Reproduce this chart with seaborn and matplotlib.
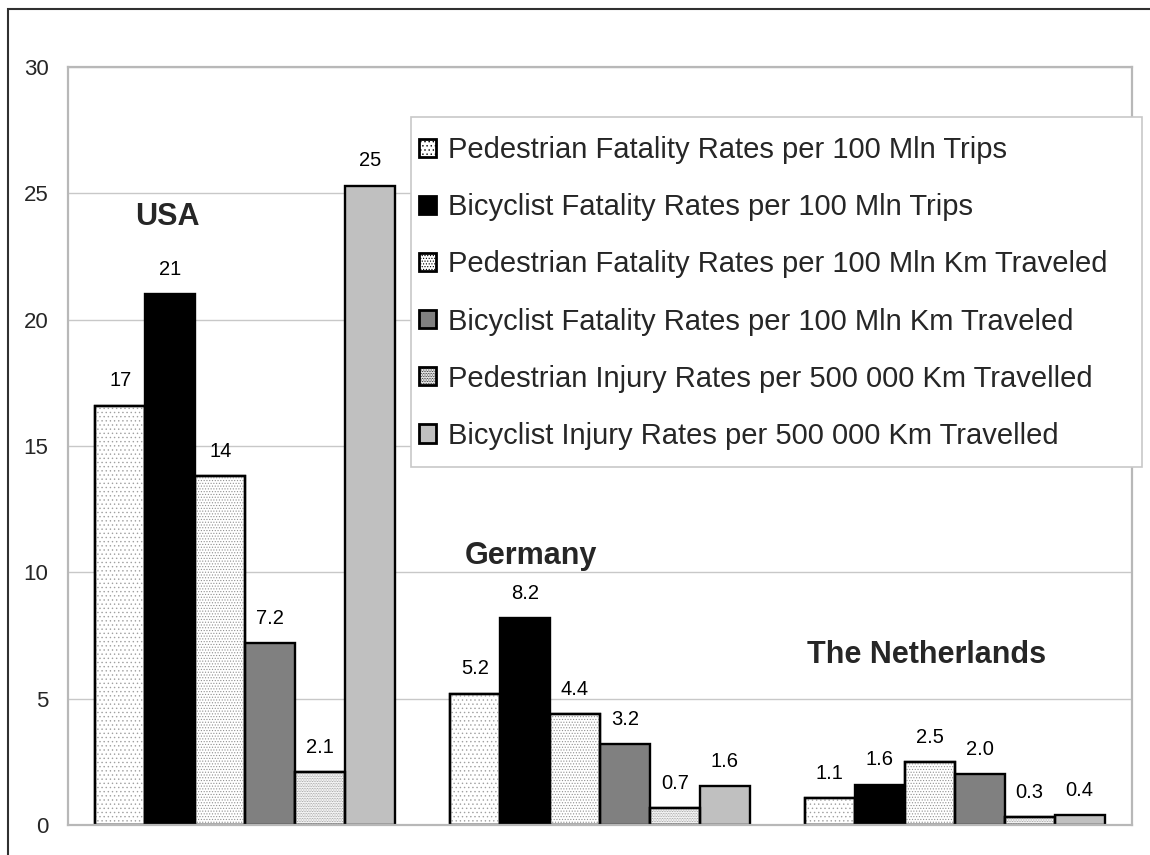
import matplotlib
matplotlib.use("Agg")
import matplotlib.pyplot as plt
from matplotlib.patches import Rectangle, Patch
import seaborn as sns
import pandas as pd

countries = ["USA", "Germany", "The Netherlands"]
series = [
    "Pedestrian Fatality Rates per 100 Mln Trips",
    "Bicyclist Fatality Rates per 100 Mln Trips",
    "Pedestrian Fatality Rates per 100 Mln Km Traveled",
    "Bicyclist Fatality Rates per 100 Mln Km Traveled",
    "Pedestrian Injury Rates per 500 000 Km Travelled",
    "Bicyclist Injury Rates per 500 000 Km Travelled",
]
usa_values = [16.6, 21.0, 13.8, 7.2, 2.1, 25.3]
germany_values = [5.2, 8.2, 4.4, 3.2, 0.67, 1.55]
netherlands_values = [1.07, 1.6, 2.5, 2.0, 0.3, 0.4]
usa_labels = ["17", "21", "14", "7.2", "2.1", "25"]
germany_labels = ["5.2", "8.2", "4.4", "3.2", "0.7", "1.6"]
netherlands_labels = ["1.1", "1.6", "2.5", "2.0", "0.3", "0.4"]
yticks = [0, 5, 10, 15, 20, 25, 30]

series_colors = ["white", "black", "white", "#808080", "white", "#c0c0c0"]
series_hatches = ["....", None, "......", None, "..........", None]
hatch_colors = ["#a0a0a0", None, "#909090", None, "#8c8c8c", None]

sns.set_theme(style="white")
plt.rcParams["font.family"] = ["Liberation Sans", "DejaVu Sans"]
plt.rcParams["hatch.linewidth"] = 0.5

all_values = [usa_values, germany_values, netherlands_values]
all_labels = [usa_labels, germany_labels, netherlands_labels]
rows = []
for c, vals in zip(countries, all_values):
    for s, v in zip(series, vals):
        rows.append({"country": c, "series": s, "value": v})
df = pd.DataFrame(rows)

fig = plt.figure(figsize=(11.5, 8.55), dpi=100)
ax = fig.add_axes([68 / 1150, 30 / 855, 1064 / 1150, 758 / 855])

palette = dict(zip(series, series_colors))
sns.barplot(data=df, x="country", y="value", hue="series", order=countries,
            hue_order=series, palette=palette, width=0.845, gap=0,
            saturation=1, edgecolor="black", linewidth=1.7, legend=False, ax=ax)

# dotted fill overlays derived from the drawn bars
for cont, hatch, hc in zip(ax.containers, series_hatches, hatch_colors):
    if hatch is None:
        continue
    for bar in cont:
        ax.add_patch(Rectangle((bar.get_x(), bar.get_y()), bar.get_width(), bar.get_height(),
                               facecolor="none", edgecolor=hc, linewidth=0,
                               hatch=hatch, zorder=bar.get_zorder() + 0.1))
        ax.add_patch(Rectangle((bar.get_x(), bar.get_y()), bar.get_width(), bar.get_height(),
                               facecolor="none", edgecolor="black", linewidth=1.7,
                               zorder=bar.get_zorder() + 0.2))

# value labels
for i, cont in enumerate(ax.containers):
    labs = [all_labels[j][i] for j in range(len(countries))]
    ax.bar_label(cont, labels=labs, padding=11, fontsize=14.5, color="black")

ax.set_ylim(0, 30)
ax.set_xlim(-0.5, 2.5)
ax.set_yticks(yticks)
ax.set_yticklabels([str(t) for t in yticks], fontsize=16)
ax.tick_params(axis="y", length=0, pad=14)
ax.set_xticks([])
ax.set_xlabel("")
ax.set_ylabel("")
ax.set_axisbelow(True)
ax.yaxis.grid(True, color="#c8c8c8", linewidth=1)
ax.xaxis.grid(False)
for sp in ax.spines.values():
    sp.set_color("#b8b8b8")
    sp.set_linewidth(1.6)

# country group labels
ax.text(-0.221, 24.06, "USA", fontsize=22, fontweight="bold", ha="center", va="center")
ax.text(0.804, 10.64, "Germany", fontsize=22, fontweight="bold", ha="center", va="center")
ax.text(1.92, 6.73, "The Netherlands", fontsize=22, fontweight="bold", ha="center", va="center")

# legend
handles = []
for c, h, hc in zip(series_colors, series_hatches, hatch_colors):
    p = Patch(facecolor=c, edgecolor="black", linewidth=2.0)
    if h:
        p.set_hatch(h)
    handles.append(p)
frame = Rectangle(((411 - 68) / 1064, (825 - 467) / 758), (1142 - 411) / 1064, (467 - 117) / 758,
                  transform=ax.transAxes, facecolor="white", edgecolor="#c8c8c8",
                  linewidth=1.2, clip_on=False, zorder=4.5)
ax.add_patch(frame)
leg = ax.legend(handles=handles, labels=series, loc="upper left",
                bbox_to_anchor=((419 - 68) / 1064, (825 - 136) / 758),
                frameon=False, borderpad=0, borderaxespad=0, fontsize=21,
                handlelength=0.58, handleheight=0.58, handletextpad=0.4,
                labelspacing=1.0)
leg.set_zorder(5)

# outer chart frame
fig.add_artist(Rectangle((8 / 1150, -0.1), 1.2, 1 - 9 / 855 + 0.1, transform=fig.transFigure,
                         fill=False, edgecolor="#303030", linewidth=1.5))

fig.savefig("out.png", dpi=100, facecolor="white")
